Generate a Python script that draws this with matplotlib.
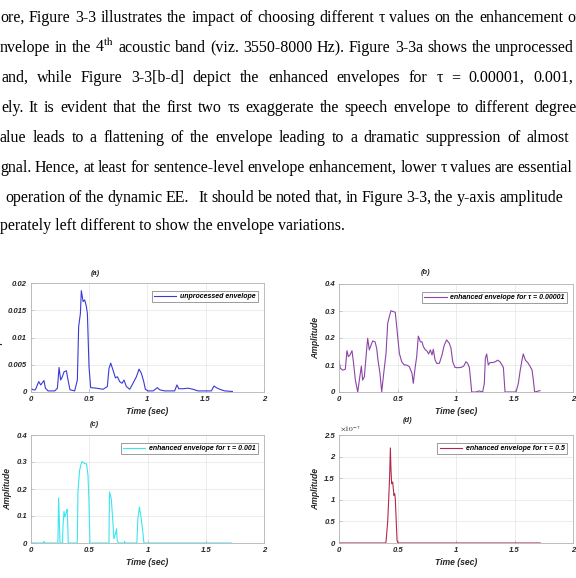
import matplotlib
matplotlib.use('Agg')
import matplotlib.pyplot as plt

# ---- page text (visible part of the screenshot) ----
para_lines = [
    "ore, Figure 3-3 illustrates the impact of choosing different τ values on the enhancement of",
    r"nvelope in the 4$^{\mathrm{th}}$ acoustic band (viz. 3550-8000 Hz). Figure 3-3a shows the unprocessed",
    "and, while Figure 3-3[b-d] depict the enhanced envelopes for τ = 0.00001, 0.001,",
    "ely. It is evident that the first two τs exaggerate the speech envelope to different degrees",
    "alue leads to a flattening of the envelope leading to a dramatic suppression of almost",
    "gnal. Hence, at least for sentence-level envelope enhancement, lower τ values are essential",
    "operation of the dynamic EE.   It should be noted that, in Figure 3-3, the y-axis amplitude",
    "perately left different to show the envelope variations.",
]

# ---- envelope data ----
t_a = [0, 0.02, 0.04, 0.069, 0.086, 0.114, 0.126, 0.149, 0.206, 0.229,
       0.243, 0.257, 0.271, 0.286, 0.306, 0.32, 0.337, 0.377, 0.4, 0.411,
       0.426, 0.434, 0.449, 0.463, 0.477, 0.486, 0.5, 0.514, 0.563, 0.62,
       0.657, 0.671, 0.686, 0.706, 0.726, 0.743, 0.763, 0.783, 0.8, 0.82,
       0.849, 0.877, 0.906, 0.929, 0.949, 0.969, 0.983, 1.006, 1.049, 1.086,
       1.106, 1.149, 1.234, 1.254, 1.269, 1.306, 1.349, 1.391, 1.434, 1.549,
       1.571, 1.591, 1.62, 1.663, 1.729]
env_a = [0.0007, 0.0004, 0.0004, 0.0019, 0.0013, 0.0021, 0.0007, 0.0002, 0.0002, 0.0007,
         0.0045, 0.0022, 0.0028, 0.0037, 0.0039, 0.0022, 0.0004, 0.0002, 0.0022, 0.012,
         0.0144, 0.0186, 0.0166, 0.0169, 0.0157, 0.0144, 0.0046, 0.0008, 0.0007, 0.0005,
         0.001, 0.0043, 0.0053, 0.004, 0.0026, 0.0028, 0.0019, 0.0016, 0.0022, 0.001,
         0.0005, 0.0016, 0.0028, 0.0042, 0.0034, 0.0019, 0.0005, 0.0002, 0.0002, 0.0008,
         0.0004, 0.0002, 0.0002, 0.0013, 0.0006, 0.0006, 0.0007, 0.0005, 0.0002, 0.0002,
         0.0011, 0.0008, 0.0005, 0.0002, 0.0001]

t_b = [0, 0.011, 0.031, 0.054, 0.068, 0.08, 0.094, 0.111, 0.123, 0.14,
       0.16, 0.174, 0.191, 0.202, 0.217, 0.231, 0.245, 0.259, 0.274, 0.288,
       0.308, 0.322, 0.333, 0.35, 0.365, 0.382, 0.402, 0.416, 0.43, 0.444,
       0.464, 0.481, 0.496, 0.516, 0.536, 0.558, 0.578, 0.601, 0.624, 0.635,
       0.65, 0.664, 0.678, 0.695, 0.709, 0.721, 0.738, 0.752, 0.766, 0.781,
       0.795, 0.806, 0.821, 0.835, 0.858, 0.88, 0.9, 0.92, 0.943, 0.957,
       0.972, 0.991, 1.014, 1.043, 1.066, 1.085, 1.1, 1.114, 1.125, 1.134,
       1.171, 1.2, 1.228, 1.242, 1.251, 1.262, 1.276, 1.291, 1.313, 1.336,
       1.356, 1.376, 1.393, 1.405, 1.419, 1.513, 1.533, 1.547, 1.564, 1.575,
       1.593, 1.613, 1.632, 1.65, 1.661, 1.672, 1.718]
env_b = [0.118, 0.088, 0.081, 0.084, 0.153, 0.131, 0.137, 0.153, 0.112, 0.044,
         0.0, 0.044, 0.096, 0.044, 0.057, 0.131, 0.199, 0.156, 0.174, 0.189,
         0.186, 0.162, 0.119, 0.069, 0.0, 0.069, 0.143, 0.254, 0.279, 0.301,
         0.298, 0.295, 0.23, 0.143, 0.112, 0.1, 0.1, 0.094, 0.069, 0.032,
         0.088, 0.131, 0.207, 0.186, 0.186, 0.168, 0.156, 0.152, 0.141, 0.156,
         0.137, 0.158, 0.119, 0.106, 0.106, 0.137, 0.174, 0.193, 0.18, 0.162,
         0.112, 0.091, 0.09, 0.091, 0.096, 0.112, 0.106, 0.091, 0.044, 0.0,
         0.0, 0.004, 0.0, 0.032, 0.125, 0.141, 0.1, 0.109, 0.109, 0.112,
         0.118, 0.112, 0.1, 0.091, 0.0, 0.0, 0.032, 0.075, 0.118, 0.141,
         0.118, 0.109, 0.096, 0.081, 0.044, 0.0, 0.005]

t_c = [0, 0.1, 0.111, 0.12, 0.231, 0.237, 0.249, 0.271, 0.274, 0.283,
       0.291, 0.303, 0.311, 0.32, 0.397, 0.403, 0.417, 0.431, 0.44, 0.46,
       0.477, 0.489, 0.497, 0.506, 0.669, 0.674, 0.689, 0.703, 0.711, 0.726,
       0.734, 0.74, 0.751, 0.8, 0.803, 0.806, 0.909, 0.917, 0.931, 0.946,
       0.96, 0.969, 1.72]
env_c = [0, 0, 0.006, 0, 0, 0.167, 0, 0, 0.059, 0.117,
         0.096, 0.115, 0.125, 0, 0, 0.189, 0.269, 0.294, 0.302, 0.294,
         0.293, 0.251, 0.164, 0, 0, 0.189, 0.164, 0.078, 0.016, 0.035,
         0.053, 0.01, 0, 0, 0.006, 0, 0, 0.09, 0.133, 0.09,
         0.041, 0, 0]

t_d = [0, 0.396, 0.402, 0.416, 0.425, 0.433, 0.439, 0.444, 0.45, 0.459,
       0.464, 0.47, 0.476, 0.481, 0.487, 0.496, 0.504, 1.72]
env_d = [0, 0, 0.03, 0.49, 1.03, 1.57, 2.2, 1.72, 1.37, 1.41,
         1.26, 1.10, 1.14, 1.03, 0.64, 0.06, 0, 0]  # x 1e-7

x_ticks = [0, 0.5, 1, 1.5, 2]
x_ticklabels = ['0', '0.5', '1', '1.5', '2']
y_ticks_a = [0, 0.005, 0.01, 0.015, 0.02]
y_ticklabels_a = ['0', '0.005', '0.01', '0.015', '0.02']
y_ticks_bc = [0, 0.1, 0.2, 0.3, 0.4]
y_ticklabels_bc = ['0', '0.1', '0.2', '0.3', '0.4']
y_ticks_d = [0, 0.5e-7, 1e-7, 1.5e-7, 2e-7, 2.5e-7]
y_ticklabels_d = ['0', '0.5', '1', '1.5', '2', '2.5']

titles = ['(a)', '(b)', '(c)', '(d)']
legend_labels = ['unprocessed envelope',
                 'enhanced envelope for τ = 0.00001',
                 'enhanced envelope for τ = 0.001',
                 'enhanced envelope for τ = 0.5']
colors = ['#3a3ad8', '#8b45a8', '#3ce6ee', '#b4284c']

W, H = 576, 578
fig = plt.figure(figsize=(W / 100, H / 100), dpi=100)
plt.rcParams['mathtext.fontset'] = 'stix'

# ---- paragraph (justified: word k of each line ends at target x) ----
serif = 'Liberation Serif'
fs_text = 11.5
base_y = [22, 52, 82, 112, 142, 172, 202, 230]
start_x = [0, 0, 1, 1, 0, 0, 5, 0]
anchor = [(-2, 563), (-1, 574), (-1, 573), (-2, 529), (-1, 569), (-2, 514), (-2, 496), None]

renderer = fig.canvas.get_renderer()
for line, y, x0, anc in zip(para_lines, base_y, start_x, anchor):
    yf = 1 - y / H
    if anc is None:
        fig.text(x0 / W, yf, line, family=serif, fontsize=fs_text, va='baseline')
        continue
    words = line.split(' ')
    objs = [fig.text(0, yf, w, family=serif, fontsize=fs_text, va='baseline') for w in words]
    widths = [o.get_window_extent(renderer).width if w else 0 for o, w in zip(objs, words)]
    k = anc[0] % len(words)
    gap = (anc[1] - x0 - sum(widths[:k + 1])) / k
    x = x0
    for o, w in zip(objs, widths):
        o.set_x(x / W)
        x += w + gap

# ---- the four panels ----
boxes = [(30.7, 283, 264, 392), (339, 284, 573, 392),
         (31, 435, 264, 543), (339, 435, 573, 543)]
title_pos = [(95, 274), (426, 273), (94, 424), (408, 420)]
series = [(t_a, env_a), (t_b, env_b), (t_c, env_c), (t_d, [v * 1e-7 for v in env_d])]
yticks = [y_ticks_a, y_ticks_bc, y_ticks_bc, y_ticks_d]
ylabels = [y_ticklabels_a, y_ticklabels_bc, y_ticklabels_bc, y_ticklabels_d]
sans = 'Liberation Sans'
fs_tick = 5.6

for i in range(4):
    l, t, r, b = boxes[i]
    ax = fig.add_axes([l / W, 1 - b / H, (r - l) / W, (b - t) / H])
    tt, vv = series[i]
    ax.plot(tt, vv, color=colors[i], lw=0.8, label=legend_labels[i])
    ax.set_xlim(0, 2)
    ax.set_ylim(yticks[i][0], yticks[i][-1])
    ax.set_xticks(x_ticks)
    ax.set_xticklabels(x_ticklabels)
    ax.set_yticks(yticks[i])
    ax.set_yticklabels(ylabels[i])
    ax.grid(True, color='#e4e4e4', lw=0.5)
    ax.set_axisbelow(True)
    for s in ax.spines.values():
        s.set_color('#b4b4b4')
        s.set_linewidth(0.6)
    ax.tick_params(direction='in', length=2, width=0.5, color='#b4b4b4',
                   labelcolor='#262626', labelsize=fs_tick, pad=3)
    for lbl in ax.get_xticklabels() + ax.get_yticklabels():
        lbl.set_family(sans)
        lbl.set_fontweight('bold')
        lbl.set_fontstyle('italic')
    ax.set_xlabel('Time (sec)', family=sans, fontsize=6.2, fontweight='bold',
                  fontstyle='italic', color='#262626', labelpad=3)
    ax.set_ylabel('Amplitude', family=sans, fontsize=6.2, fontweight='bold',
                  fontstyle='italic', color='#262626', labelpad=3)
    leg = ax.legend(loc='upper right', bbox_to_anchor=(0.974, 0.93), borderaxespad=0,
                    prop={'family': sans, 'size': 5, 'weight': 'bold', 'style': 'italic'},
                    fancybox=False, framealpha=1, edgecolor='#8c8c8c',
                    handlelength=3.2, handletextpad=0.5, borderpad=0.35)
    leg.get_frame().set_linewidth(0.6)
    fig.text(title_pos[i][0] / W, 1 - title_pos[i][1] / H, titles[i], family=sans,
             fontsize=5.4, fontweight='bold', fontstyle='italic', color='#262626',
             ha='center', va='center')
    if i == 3:
        ax.text(0.005, 1.015, r'$\times10^{-7}$', transform=ax.transAxes,
                fontsize=5.4, color='#262626', va='bottom')

fig.savefig('out.png', dpi=100)
